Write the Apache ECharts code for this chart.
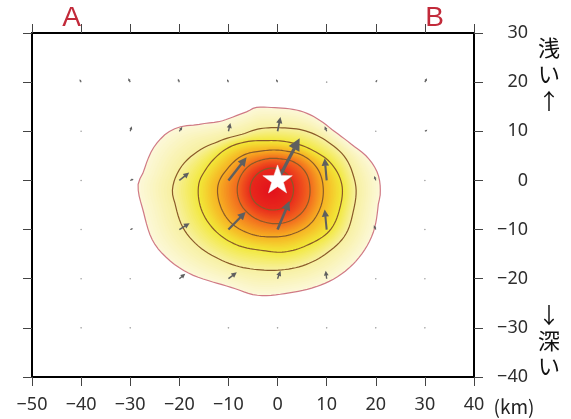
<!DOCTYPE html>
<html><head><meta charset="utf-8">
<script src="https://cdn.jsdelivr.net/npm/echarts@6/dist/echarts.min.js"></script>
<style>html,body{margin:0;padding:0;background:#fff}#c{width:571px;height:419px}</style>
</head><body><div id="c"></div>
<script>
// ---- axis ranges / ticks ----
const X_MIN = -50, X_MAX = 40, Y_MIN = -40, Y_MAX = 30, TICK_STEP = 10;

// ---- slip contours (km), outer (L1) to inner (L6) ----
const contourL1 = [[-4.6,14.8],[-0.5,14.8],[5.6,13.8],[9.1,11.9],[11.7,9.9],[15.2,7.2],[18.4,4.6],[20.5,1.1],[20.9,-3.0],[20.5,-5.0],[19.3,-11.1],[15.8,-16.6],[11.7,-19.9],[7.0,-21.9],[2.2,-22.9],[-4.6,-23.3],[-9.0,-21.9],[-13.1,-20.7],[-18.4,-18.7],[-22.5,-15.8],[-25.3,-12.5],[-27.3,-6.4],[-28.4,-0.9],[-27.3,1.7],[-25.3,6.6],[-22.5,9.7],[-19.8,10.9],[-16.4,11.3],[-12.3,11.9],[-9.6,12.7],[-6.2,14.0]];
const contourL2 = [[-21.4,-1.9],[-20.8,-5.0],[-19.2,-9.7],[-16.4,-13.1],[-12.3,-15.8],[-7.6,-17.6],[-3.5,-18.2],[0.9,-18.2],[5.6,-17.2],[10.3,-14.6],[13.8,-11.1],[15.4,-6.4],[16.0,-1.9],[15.4,1.1],[13.8,4.6],[10.3,7.8],[6.2,9.9],[0.9,10.7],[-4.6,10.3],[-7.6,9.3],[-12.3,7.8],[-16.4,5.8],[-19.8,2.5]];
const contourL3 = [[-16.0,-0.5],[-15.8,-5.0],[-13.7,-9.1],[-9.6,-12.5],[-3.5,-14.2],[0.9,-14.6],[6.2,-13.1],[10.7,-10.1],[12.7,-5.6],[13.1,-0.9],[11.1,3.2],[7.0,6.2],[2.2,7.8],[-2.5,8.1],[-6.6,7.8],[-10.1,6.6],[-12.7,4.6],[-14.7,2.1]];
const contourL4 = [[-12.1,-0.9],[-11.7,-5.0],[-9.6,-8.5],[-6.0,-10.7],[-1.5,-11.5],[3.0,-10.9],[6.6,-8.9],[8.7,-5.6],[9.3,-1.5],[8.3,2.1],[5.6,4.8],[1.5,6.0],[-3.1,6.0],[-7.2,5.0],[-10.1,2.5]];
const contourL5 = [[-8.2,-1.5],[-7.6,-4.6],[-5.6,-7.0],[-2.5,-8.5],[0.9,-8.7],[4.0,-7.4],[6.0,-5.0],[6.6,-1.5],[5.8,1.5],[3.6,3.6],[0.5,4.4],[-3.1,4.2],[-6.0,2.8],[-7.6,0.7]];
const contourL6 = [[-5.6,-1.7],[-4.8,-4.2],[-2.9,-5.6],[-0.5,-6.0],[2.0,-5.0],[3.2,-2.5],[2.8,0.1],[1.1,1.9],[-1.5,2.5],[-3.9,1.5],[-5.2,-0.1]];
const slipPeak = [-1.3, -2.0];

// ---- slip vectors: node position (km) and displacement (km on plot) ----
const arrowX = [-40,-30,-20,-10,0,10,20,30,  -40,-30,-20,-10,0,10,20,30,  -40,-30,-20,-10,0,10,20,30,  -40,-30,-20,-10,0,10,20,30,  -40,-30,-20,-10,0,10,20,30,  -40,-30,-10,0,10,20,30];
const arrowY = [20,20,20,20,20,20,20,20,  10,10,10,10,10,10,10,10,  0,0,0,0,0,0,0,0,  -10,-10,-10,-10,-10,-10,-10,-10,  -20,-20,-20,-20,-20,-20,-20,-20,  -30,-30,-30,-30,-30,-30,-30];
const arrowU = [-0.3,-0.4,-0.3,-0.3,-0.3,0,0.3,0.4,  0,0.3,0.6,0.4,0.6,-0.4,0,0.5,  0,0.7,2.0,3.7,4.5,-0.4,-0.3,0,  0,0.6,2.1,3.5,2.4,-0.4,-0.4,0,  0,0,1.2,1.7,0.6,-0.2,0,0,  0,0,0,0,0,0,0];
const arrowV = [0.6,0.8,0.7,0.6,0.6,0,0.5,0.8,  0,1.0,0.9,1.7,2.9,1.0,0,0.3,  0,0.3,1.6,4.7,8.6,4.5,0.9,0,  0,0.2,1.3,3.6,5.8,4.1,0.9,0,  0,0,1.0,1.3,1.6,1.6,0,0,  0,0,0,0,0,0,0];

// ---- epicenter ----
const epicenter = [[0, 0]];

const contours = [contourL1, contourL2, contourL3, contourL4, contourL5, contourL6];
const levelColors = ['#fcf8d8', '#f7f09e', '#f2e838', '#f7ae22', '#f2661e', '#e8281c', '#e2101c'];
const contourLineColors = ['#d07a85', '#8a5a28', '#8a5a28', '#8a5a28', '#8a5a28', '#8a5a28'];

const TWO_PI = Math.PI * 2;
function toPolar(poly) {
  const pts = poly.map(p => { const dx = p[0] - slipPeak[0], dy = p[1] - slipPeak[1]; return [Math.atan2(dy, dx), Math.hypot(dx, dy)]; });
  pts.sort((a, b) => a[0] - b[0]);
  return pts;
}
function radiusAt(pts, phi) {
  const n = pts.length;
  const get = j => { const m = ((j % n) + n) % n; const w = Math.floor(j / n); return [pts[m][0] + TWO_PI * w, pts[m][1]]; };
  let b;
  if (phi < pts[0][0]) b = -1; else { b = 0; for (let k = 0; k < n; k++) if (pts[k][0] <= phi) b = k; }
  const p0 = get(b - 1), p1 = get(b), p2 = get(b + 1), p3 = get(b + 2);
  const t = (phi - p1[0]) / (p2[0] - p1[0]);
  const a = p0[1], bb = p1[1], c = p2[1], d = p3[1];
  return 0.5 * (2 * bb + (-a + c) * t + (2 * a - 5 * bb + 4 * c - d) * t * t + (-a + 3 * bb - 3 * c + d) * t * t * t);
}
const NS = 144;
const angles = []; for (let i = 0; i < NS; i++) angles.push(-Math.PI + TWO_PI * i / NS);
const polarContours = contours.map(toPolar);
const radii = polarContours.map(pc => angles.map(a => radiusAt(pc, a)));
radii.push(angles.map(() => 0));

function hex2rgb(h) { return [parseInt(h.slice(1,3),16), parseInt(h.slice(3,5),16), parseInt(h.slice(5,7),16)]; }
function lerpColor(c1, c2, t) { const a = hex2rgb(c1), b = hex2rgb(c2); return 'rgb(' + a.map((v, i) => Math.round(v + (b[i] - v) * t)).join(',') + ')'; }

function renderSlip(params, api) {
  const o = api.coord([slipPeak[0], slipPeak[1]]);
  const kx = api.coord([slipPeak[0] + 1, slipPeak[1]])[0] - o[0];
  const ky = api.coord([slipPeak[0], slipPeak[1] + 1])[1] - o[1];
  const ring = r => angles.map((a, i) => [o[0] + Math.cos(a) * r[i] * kx, o[1] + Math.sin(a) * r[i] * ky]);
  const children = [];
  for (let k = 0; k < radii.length - 1; k++) {
    const steps = k === radii.length - 2 ? 16 : 12;
    for (let s = 0; s < steps; s++) {
      const t = s / steps;
      const r = radii[k].map((v, i) => v + (radii[k + 1][i] - v) * t);
      children.push({ type: 'polygon', shape: { points: ring(r) }, style: { fill: lerpColor(levelColors[k], levelColors[k + 1], t) } });
    }
  }
  for (let k = 0; k < contours.length; k++) {
    children.push({ type: 'polygon', shape: { points: ring(radii[k]) }, style: { fill: 'none', stroke: contourLineColors[k], lineWidth: 1.2 } });
  }
  return { type: 'group', children };
}

const ARROW_COLOR = '#5f5f5f';
function renderArrow(params, api) {
  const x = api.value(0), y = api.value(1), u = api.value(2), v = api.value(3);
  const s = api.coord([x, y]), e = api.coord([x + u, y + v]);
  const dx = e[0] - s[0], dy = e[1] - s[1], L = Math.hypot(dx, dy);
  if (L < 0.5) return { type: 'circle', shape: { cx: s[0], cy: s[1], r: 0.8 }, style: { fill: '#a0a0a0' } };
  const ux = dx / L, uy = dy / L;
  const h = Math.min(3.5 + 0.18 * L, 0.6 * L), w = h * 1.0;
  const lw = Math.min(3.2, 1.0 + 0.05 * L);
  const bx = e[0] - ux * h, by = e[1] - uy * h;
  return { type: 'group', children: [
    { type: 'line', shape: { x1: s[0], y1: s[1], x2: bx + ux * 0.5, y2: by + uy * 0.5 }, style: { stroke: ARROW_COLOR, lineWidth: lw } },
    { type: 'polygon', shape: { points: [[e[0], e[1]], [bx - uy * w / 2, by + ux * w / 2], [bx + uy * w / 2, by - ux * w / 2]] }, style: { fill: ARROW_COLOR } }
  ] };
}

function renderStar(params, api) {
  const c = api.coord([api.value(0), api.value(1)]);
  const R = 15.5, r = R * 0.4, pts = [];
  for (let i = 0; i < 10; i++) { const a = -Math.PI / 2 + i * Math.PI / 5; const rr = i % 2 ? r : R; pts.push([c[0] + rr * Math.cos(a), c[1] + rr * Math.sin(a)]); }
  return { type: 'polygon', shape: { points: pts }, style: { fill: '#ffffff', stroke: '#eeeeee', lineWidth: 0.5 } };
}

const fmt = v => String(v).replace('-', '\u2212');
const lbl = { color: '#2e2e2e', fontSize: 18, fontFamily: 'Noto Sans' };
const axLine = { show: true, onZero: false, lineStyle: { color: '#000', width: 2 } };
const axTick = { show: true, length: 9, lineStyle: { color: '#444', width: 1 } };

const chart = echarts.init(document.getElementById('c'), null, { renderer: 'canvas' });
chart.setOption({
  animation: false,
  backgroundColor: '#fff',
  grid: { left: 32, top: 33, width: 442, height: 344 },
  xAxis: [
    { type: 'value', position: 'bottom', min: X_MIN, max: X_MAX, interval: TICK_STEP, axisLine: axLine, axisTick: axTick, splitLine: { show: false }, axisLabel: Object.assign({ margin: 19, formatter: fmt }, lbl) },
    { type: 'value', position: 'top', min: X_MIN, max: X_MAX, interval: TICK_STEP, axisLine: axLine, axisTick: axTick, splitLine: { show: false }, axisLabel: { show: false } }
  ],
  yAxis: [
    { type: 'value', position: 'right', min: Y_MIN, max: Y_MAX, interval: TICK_STEP, axisLine: axLine, axisTick: axTick, splitLine: { show: false }, axisLabel: Object.assign({ margin: 54, align: 'right', formatter: fmt }, lbl) },
    { type: 'value', position: 'left', min: Y_MIN, max: Y_MAX, interval: TICK_STEP, axisLine: axLine, axisTick: axTick, splitLine: { show: false }, axisLabel: { show: false } }
  ],
  series: [
    { type: 'custom', xAxisIndex: 0, yAxisIndex: 0, clip: true, silent: true, z: 1, renderItem: renderSlip, data: [[slipPeak[0], slipPeak[1]]] },
    { type: 'custom', xAxisIndex: 0, yAxisIndex: 0, clip: true, silent: true, z: 3, renderItem: renderArrow,
      data: arrowX.map((x, i) => [x, arrowY[i], arrowU[i], arrowV[i]]) },
    { type: 'custom', xAxisIndex: 0, yAxisIndex: 0, clip: true, silent: true, z: 4, renderItem: renderStar, data: epicenter }
  ],
  graphic: [
    { type: 'text', x: 71.5, y: 18, style: { text: 'A', fill: '#c22a3a', font: '28px "Liberation Sans", Arial, sans-serif', textAlign: 'center', textVerticalAlign: 'middle' } },
    { type: 'text', x: 434.5, y: 18, style: { text: 'B', fill: '#c22a3a', font: '28px "Liberation Sans", Arial, sans-serif', textAlign: 'center', textVerticalAlign: 'middle' } },
    { type: 'text', x: 514, y: 407, style: { text: '(km)', fill: '#222', font: '19px "Noto Sans CJK JP"', textAlign: 'center', textVerticalAlign: 'middle' } },
    { type: 'text', x: 549, y: 34, style: { text: '浅\nい\n↑', fill: '#111', font: '22px "Noto Sans CJK JP"', lineHeight: 26.5, textAlign: 'center', textVerticalAlign: 'top' } },
    { type: 'text', x: 549, y: 302, style: { text: '↓\n深\nい', fill: '#111', font: '22px "Noto Sans CJK JP"', lineHeight: 25.5, textAlign: 'center', textVerticalAlign: 'top' } }
  ]
});
</script>
</body></html>
